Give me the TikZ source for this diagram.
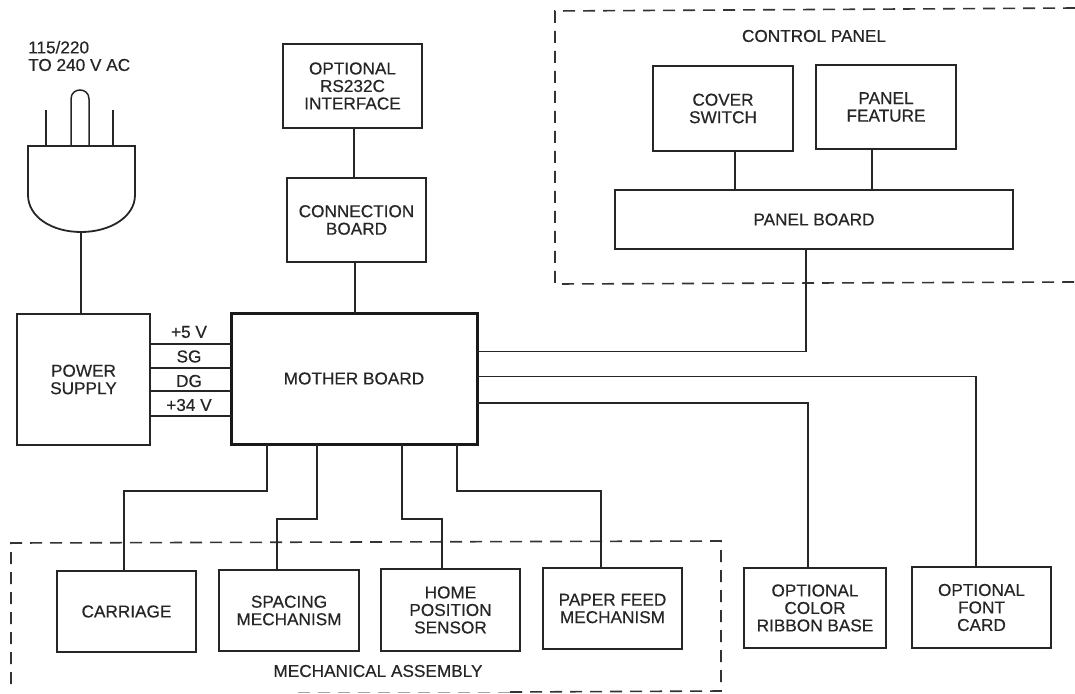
\documentclass[tikz,border=0pt]{standalone}
\usepackage{fontspec}
\setmainfont[RawFeature={embolden=0.5}]{Liberation Sans}
\usepackage{tikz}
\usetikzlibrary{calc}

\begin{document}
\begin{tikzpicture}[
x=1pt,
y=-1pt,
every node/.style={font=\fontsize{17.2}{17.5}\selectfont,text=black!85},
wire/.style={line width=1.5pt,draw=black!85},
unit/.style={rectangle,draw=black!85,line width=1.8pt,align=center,inner sep=0pt,outer sep=0pt},
mainunit/.style={unit,line width=3pt,draw=black!90},
dashbox/.style={line width=1.6pt,draw=black!80,dash pattern=on 12pt off 8pt},
sigtext/.style={inner sep=0pt}
]
\useasboundingbox (0,0) rectangle (1075,693);

% groups
\draw[dashbox] (1075,8) -- (555,11) -- (555,284) -- (1075,282);
\draw[dashbox] (510,692) -- (721,691) -- (721,541) -- (11,543) -- (11,688);
\draw[dashbox,draw=black!35,line width=1pt] (298,692) -- (510,692);
\node[sigtext] (paneltitle) at (814,36) {CONTROL PANEL};
\node[sigtext] (mechtitle) at (378,671) {MECHANICAL ASSEMBLY};

% plug
\draw[unit] (28,146) -- (135,146) -- (135,195) .. controls (135,217) and (110,232) .. (81,232) .. controls (52,232) and (28,217) .. (28,195) -- cycle;
\draw[wire] (46,146) -- (46,110);
\draw[wire] (113,146) -- (113,110);
\draw[wire] (71,146) -- (71,99) .. controls (71,87) and (89,87) .. (89,99) -- (89,146);
\coordinate (plugend) at (81,232);
\node[sigtext,anchor=west,align=left] (mains) at (28,56) {115/220\\TO 240 V AC};

% units
\node[unit,minimum width=139pt,minimum height=84pt] (rsport) at (352.5,86) {OPTIONAL\\RS232C\\INTERFACE};
\node[unit,minimum width=139pt,minimum height=84pt] (connboard) at (356.5,220) {CONNECTION\\BOARD};
\node[mainunit,minimum width=246pt,minimum height=131pt] (mother) at (354,378.5) {MOTHER BOARD};
\node[unit,minimum width=133pt,minimum height=131pt] (power) at (83.5,379.5) {POWER\\SUPPLY};

\node[unit,minimum width=140pt,minimum height=85pt] (cover) at (723,108.5) {COVER\\SWITCH};
\node[unit,minimum width=140pt,minimum height=84pt] (feature) at (886,107) {PANEL\\FEATURE};
\node[unit,minimum width=398pt,minimum height=59pt] (panel) at (814,219.5) {PANEL BOARD};

\node[unit,minimum width=139pt,minimum height=81pt] (carriage) at (126.5,611.5) {CARRIAGE};
\node[unit,minimum width=140pt,minimum height=81pt] (spacing) at (289,610.5) {SPACING\\MECHANISM};
\node[unit,minimum width=139pt,minimum height=82pt] (home) at (450.5,610) {HOME\\POSITION\\SENSOR};
\node[unit,minimum width=139pt,minimum height=81pt] (paper) at (612.5,608.5) {PAPER FEED\\MECHANISM};
\node[unit,minimum width=142pt,minimum height=80pt] (ribbon) at (815,608) {OPTIONAL\\COLOR\\RIBBON BASE};
\node[unit,minimum width=139pt,minimum height=81pt] (fontcard) at (981.5,607.5) {OPTIONAL\\FONT\\CARD};

% power lines
\node[sigtext] (vfive) at (189,332) {+5 V};
\node[sigtext] (sg) at (189,356.5) {SG};
\node[sigtext] (dg) at (189,381) {DG};
\node[sigtext] (vthirty) at (189,405) {+34 V};
\draw[wire] ([yshift=35.5pt]power.east) -- ([yshift=34.5pt]mother.west);
\draw[wire] ([yshift=11.5pt]power.east) -- ([yshift=10.5pt]mother.west);
\draw[wire] ([yshift=-11.5pt]power.east) -- ([yshift=-12.5pt]mother.west);
\draw[wire] ([yshift=-36.5pt]power.east) -- ([yshift=-37.5pt]mother.west);

% connectors
\draw[wire] (plugend) -- ([xshift=-2.5pt]power.north);
\draw[wire] ([xshift=1.5pt]rsport.south) -- ([xshift=-2.5pt]connboard.north);
\draw[wire] ([xshift=-1.5pt]connboard.south) -- ([xshift=1pt]mother.north);
\draw[wire] ([xshift=12pt]cover.south) -- ([xshift=-79pt]panel.north);
\draw[wire] ([xshift=-14pt]feature.south) -- ([xshift=58pt]panel.north);
\draw[wire] ([xshift=-8pt]panel.south) |- ([yshift=27pt]mother.east);
\draw[wire] ([yshift=2pt]mother.east) -| ([xshift=-5.5pt]fontcard.north);
\draw[wire] ([yshift=-24.5pt]mother.east) -| ([xshift=-7pt]ribbon.north);
\draw[wire] ([xshift=-87pt]mother.south) -- ++(0,47) -| ([xshift=-2.5pt]carriage.north);
\draw[wire] ([xshift=-37pt]mother.south) -- ++(0,75) -| ([xshift=-12pt]spacing.north);
\draw[wire] ([xshift=48pt]mother.south) -- ++(0,75) -| ([xshift=-8.5pt]home.north);
\draw[wire] ([xshift=103pt]mother.south) -- ++(0,47) -| ([xshift=-11.5pt]paper.north);
\end{tikzpicture}
\end{document}
